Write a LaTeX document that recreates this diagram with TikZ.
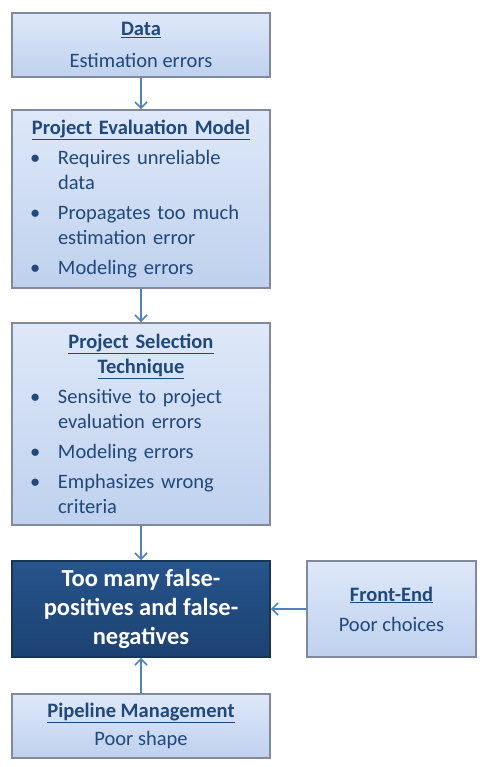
\documentclass[tikz,border=0pt]{standalone}
\usepackage{fontspec}
\setmainfont{Carlito}
\usepackage{xcolor}
\definecolor{txtBlue}{RGB}{31, 73, 125}
\definecolor{boxTop}{RGB}{222, 232, 249}
\definecolor{boxBot}{RGB}{191, 209, 238}
\definecolor{boxRim}{RGB}{128, 138, 156}
\definecolor{darkTop}{RGB}{38, 84, 140}
\definecolor{darkBot}{RGB}{28, 66, 114}
\definecolor{arrBlue}{RGB}{79, 129, 189}
\usepackage{tikz}
\usetikzlibrary{positioning,arrows.meta}

\newcommand{\ttl}[1]{\underline{\textbf{#1}}}
\newcommand{\blt}{\hspace*{12pt}\makebox[28pt][l]{\textbullet}}
\newcommand{\ind}{\hspace*{40pt}}

\begin{document}
\begin{tikzpicture}[
  x=1pt, y=-1pt,
  box/.style={draw=boxRim, line width=1.8pt, rectangle, top color=boxTop,
              bottom color=boxBot, minimum width=258pt, text=txtBlue,
              font=\fontsize{20.5}{25}\selectfont, inner sep=0pt},
  listbox/.style={box, text width=246pt, align=left},
  endbox/.style={draw=darkBot!80!black, line width=1.8pt, rectangle,
                 top color=darkTop, bottom color=darkBot, minimum width=258pt,
                 text=white, align=center, font=\fontsize{24.5}{29}\selectfont\bfseries},
  flow/.style={draw=arrBlue, line width=1.6pt, -{Straight Barb[length=6pt, width=12pt]}}
]
\useasboundingbox (0,0) rectangle (487,767);

%% ── main chain ──────────────────────────────────────────────
\node[box, align=center, minimum height=64pt] (data) at (141, 45)
  {\ttl{Data}\\[7pt]Estimation errors};
\node[listbox, minimum height=178pt] (eval) at (141, 199)
  {{\centering\ttl{Project Evaluation Model}\par}\vspace{5pt}
   \blt Requires unreliable\\\ind data\\[5pt]
   \blt Propagates too much\\\ind estimation error\\[5pt]
   \blt Modeling errors};
\node[listbox, minimum height=202pt] (sel) at (141, 424)
  {{\centering\ttl{Project Selection}\\\ttl{Technique}\par}\vspace{5pt}
   \blt Sensitive to project\\\ind evaluation errors\\[5pt]
   \blt Modeling errors\\[5pt]
   \blt Emphasizes wrong\\\ind criteria};
\node[endbox, minimum height=96pt] (fp) at (141, 609)
  {Too many false-\\positives and false-\\negatives};

%% ── side inputs ─────────────────────────────────────────────
\node[box, align=center, minimum width=169pt, minimum height=96pt] (front) at (391.5, 609)
  {\ttl{Front-End}\\[5pt]Poor choices};
\node[box, align=center, minimum height=64pt] (pipe) at (141, 726)
  {\ttl{Pipeline Management}\\[3pt]Poor shape};

\draw[flow] (data) -- (eval);
\draw[flow] (eval) -- (sel);
\draw[flow] (sel) -- (fp);
\draw[flow] (front) -- (fp);
\draw[flow] (pipe) -- (fp);
\end{tikzpicture}
\end{document}
